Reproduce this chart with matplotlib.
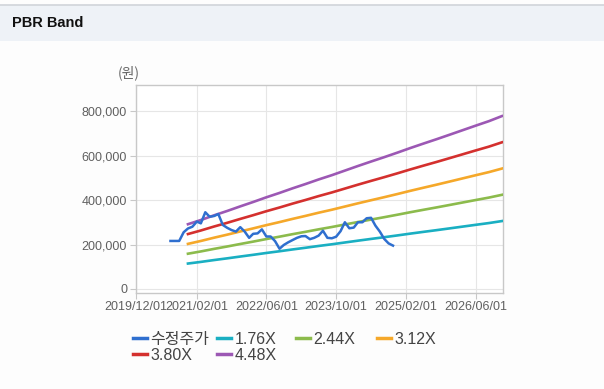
import matplotlib
matplotlib.use("Agg")
import matplotlib.pyplot as plt
import matplotlib.dates as mdates
from matplotlib.lines import Line2D
from matplotlib.patches import Rectangle
import pandas as pd

plt.rcParams['font.family'] = ['Liberation Sans', 'Noto Sans CJK KR', 'DejaVu Sans']

# adjusted close (won), monthly
price_dates = pd.date_range('2020-08-01', '2024-11-01', freq='MS')
price = [216000, 216000, 216000, 255000, 272000, 280000, 303000, 295000, 345000, 325000,
         328000, 337000, 288000, 275000, 265000, 258000, 278000, 258000, 230000, 248000,
         250000, 268000, 236000, 236000, 215000, 181000, 198000, 210000, 220000, 230000,
         237000, 238000, 224000, 230000, 240000, 262000, 230000, 228000, 235000, 260000,
         300000, 273000, 276000, 300000, 300000, 318000, 320000, 285000, 258000, 225000,
         205000, 195000]

# BPS (won), quarterly
bps_dates = pd.date_range('2020-12-01', '2026-12-01', freq='3MS')
bps = [65000, 69200, 73900, 78300, 82900, 87300, 92000, 96400, 101000, 105300,
       109900, 114200, 118800, 123400, 127900, 132300, 136800, 141400, 145900, 150300,
       154800, 159300, 163900, 168400, 173500]

multiples = [1.76, 2.44, 3.12, 3.80, 4.48]
band_labels = ['1.76X', '2.44X', '3.12X', '3.80X', '4.48X']
band_colors = ['#1aafc2', '#8cbb4c', '#f5a82a', '#d4302e', '#9c58b4']
price_color = '#2f6fcf'

fig = plt.figure(figsize=(6.04, 3.89), dpi=100, facecolor='#fdfdfd')

# header strip
fig.patches.append(Rectangle((0, 1 - 41 / 389), 1, 36 / 389, transform=fig.transFigure,
                             facecolor='#eef2f7', edgecolor='none', zorder=0))
fig.lines.append(Line2D([0, 1], [1 - 5 / 389] * 2, transform=fig.transFigure,
                        color='#d0d4da', lw=1.2))
fig.text(12 / 604, 1 - 23 / 389, 'PBR Band', fontsize=10.5, fontweight='bold',
         va='center', ha='left', color='#111111')

ax = fig.add_axes([135.5 / 604, 1 - 293 / 389, 367 / 604, 208 / 389])
ax.set_facecolor('white')

for m, lab, c in zip(multiples, band_labels, band_colors):
    ax.plot(bps_dates, [b * m for b in bps], color=c, lw=1.9, label=lab, zorder=3)
ax.plot(price_dates, price, color=price_color, lw=1.8, label='수정주가', zorder=4)

ax.set_xlim(pd.Timestamp('2019-12-01'), pd.Timestamp('2026-12-05'))
ax.set_ylim(-18000, 917000)

xticks = pd.to_datetime(['2019-12-01', '2021-02-01', '2022-06-01', '2023-10-01',
                         '2025-02-01', '2026-06-01'])
ax.set_xticks(xticks)
ax.xaxis.set_major_formatter(mdates.DateFormatter('%Y/%m/%d'))
ax.set_yticks([0, 200000, 400000, 600000, 800000])
ax.yaxis.set_major_formatter(matplotlib.ticker.FuncFormatter(lambda v, p: f'{int(v):,}'))

ax.grid(True, color='#e6e6e6', lw=0.8, zorder=0)
for s in ax.spines.values():
    s.set_color('#c8c8c8')
    s.set_linewidth(1.0)
ax.tick_params(colors='#c8c8c8', labelcolor='#606060', labelsize=9, length=4, width=0.8,
               pad=2)

fig.text(118 / 604, 1 - 73 / 389, '(원)', fontsize=10, color='#666666', va='center',
         family=['Noto Sans CJK KR', 'DejaVu Sans'])

# legend laid out in fixed-width columns
h = {l.get_label(): l for l in ax.get_lines()}
cols = [(['수정주가', '3.80X'], 133), (['1.76X', '4.48X'], 217), (['2.44X'], 296),
        (['3.12X'], 377)]
for labels, xpx in cols:
    handles = [Line2D([], [], color=h[l].get_color(), lw=2.5) for l in labels]
    fig.legend(handles, labels, loc='upper left', bbox_to_anchor=(xpx / 604, 1 - 332 / 389),
               frameon=False, fontsize=11.5, handlelength=0.9, handletextpad=0.2,
               labelspacing=0.05, borderpad=0, borderaxespad=0, labelcolor='#444444')

fig.savefig('out.png', dpi=100, facecolor=fig.get_facecolor())
